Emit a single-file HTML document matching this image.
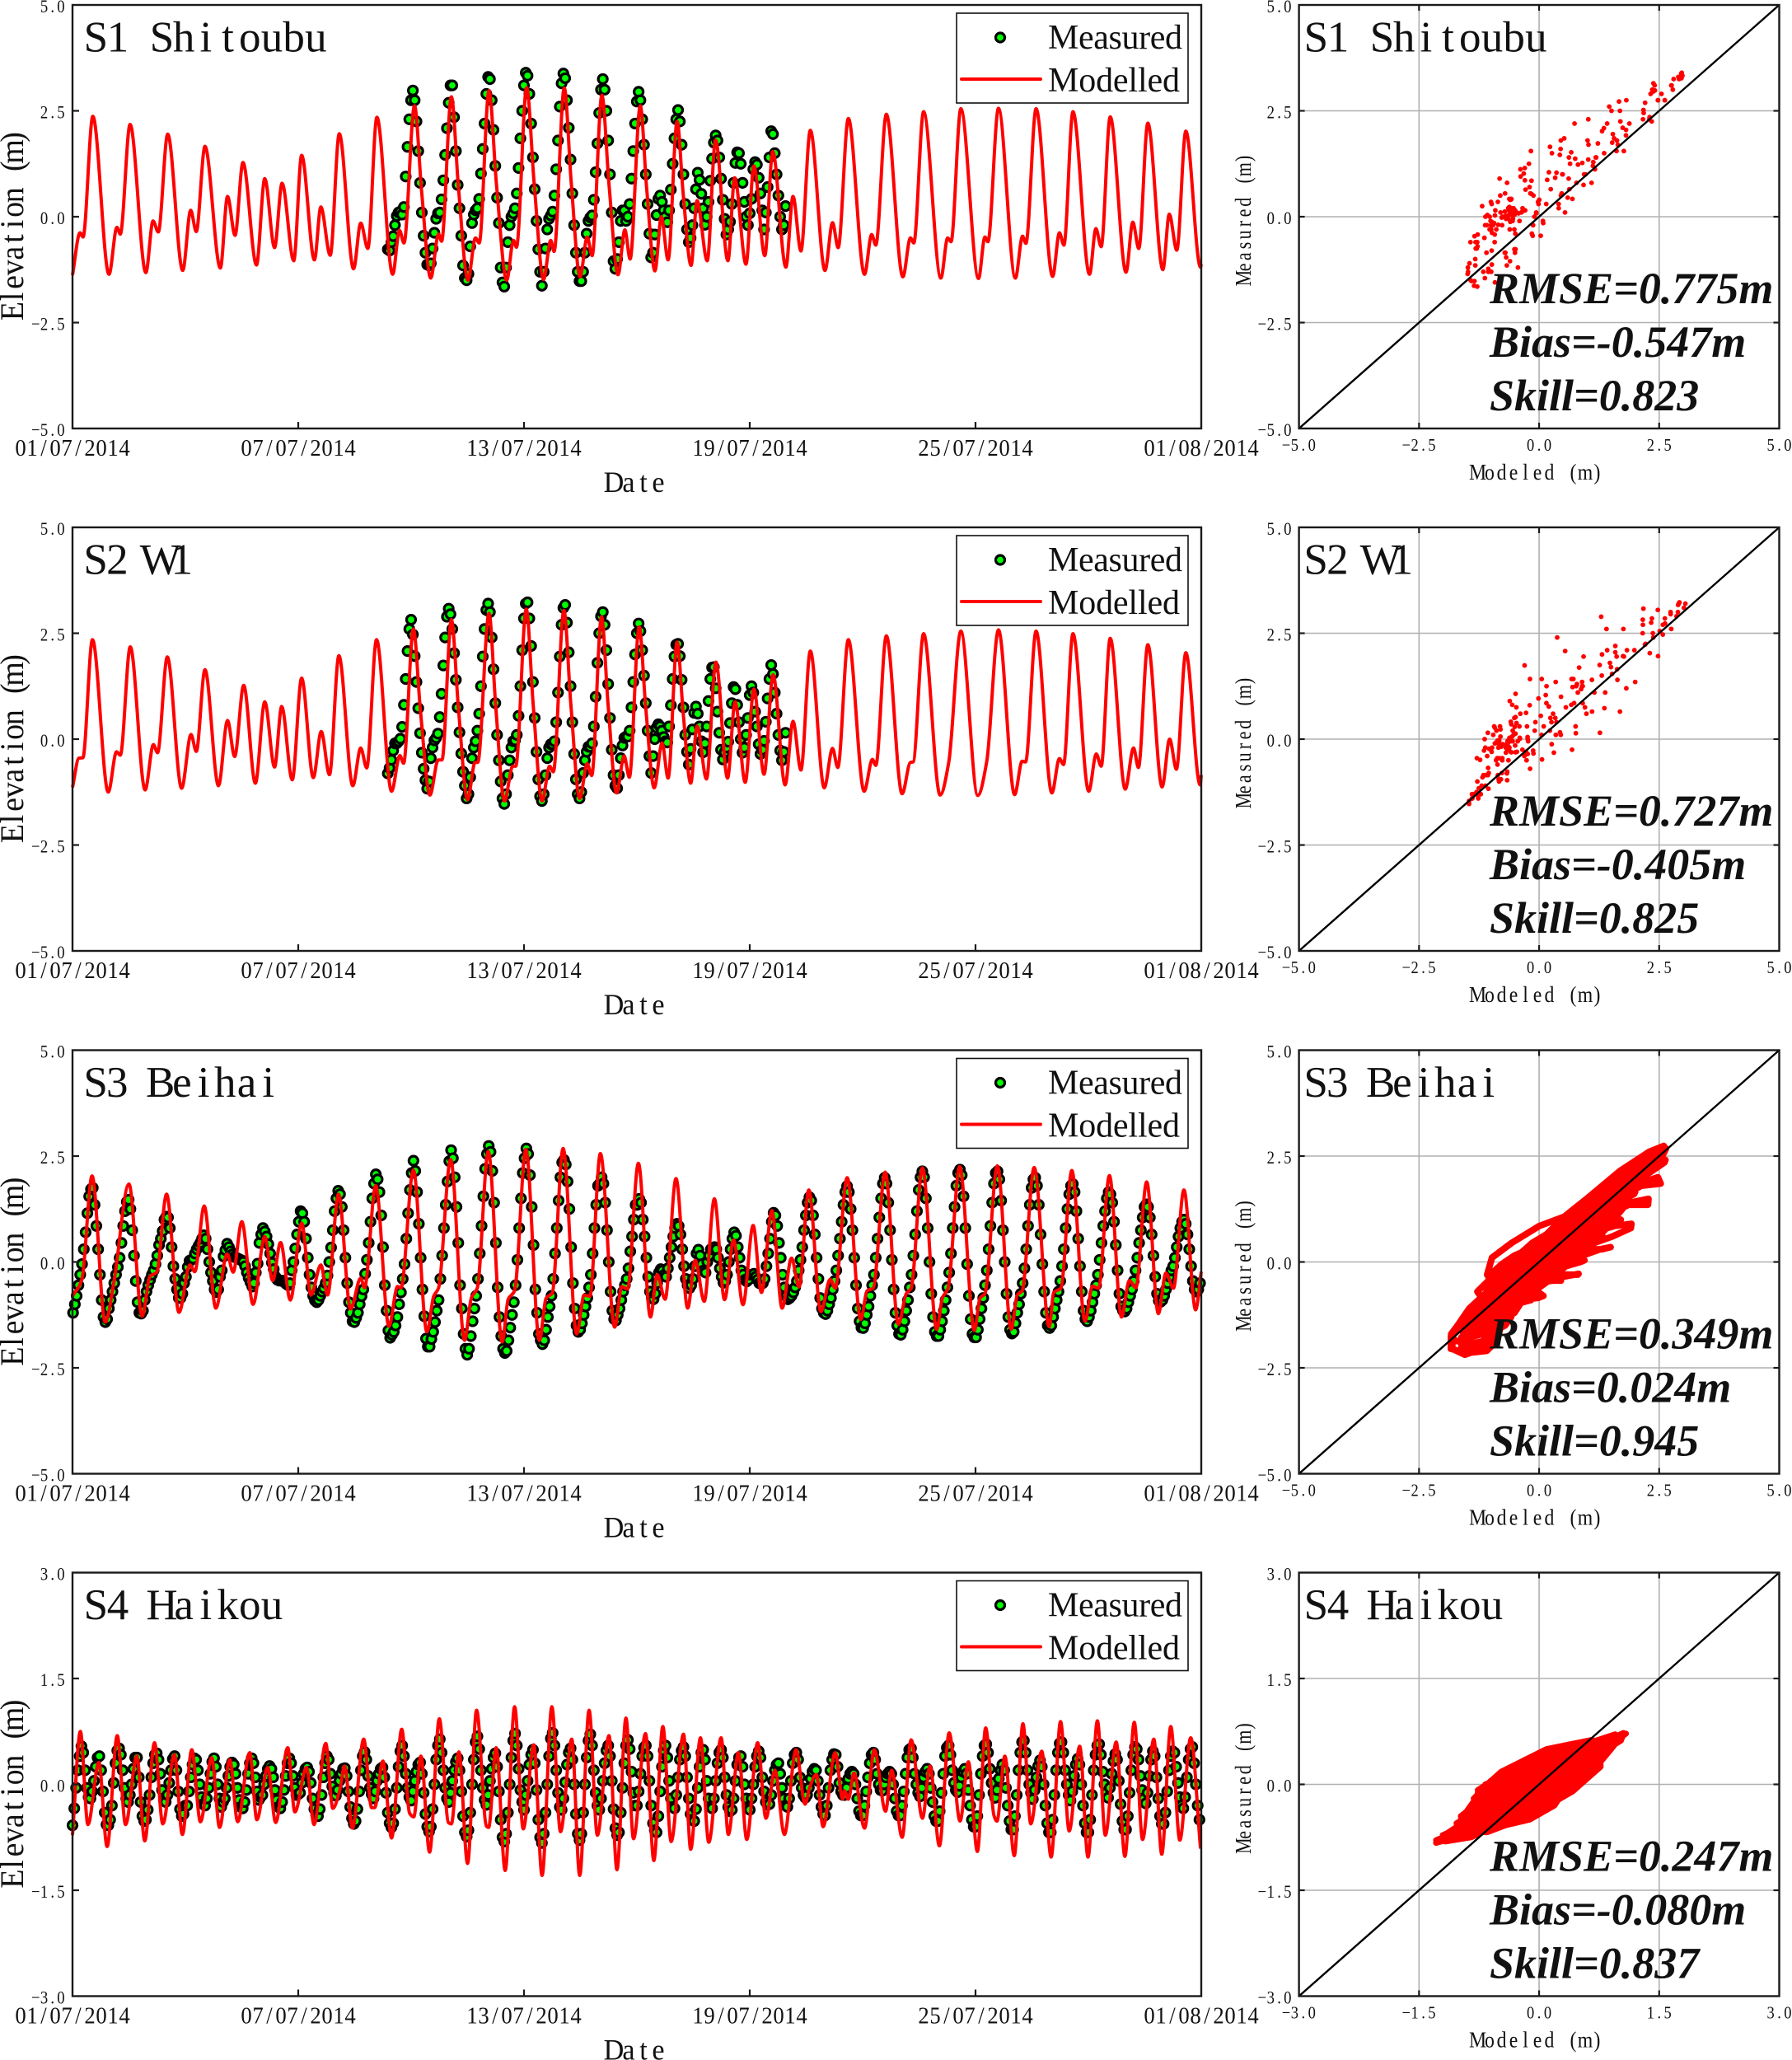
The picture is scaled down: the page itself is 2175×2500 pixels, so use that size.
<!DOCTYPE html>
<html lang="en">
<head>
<meta charset="utf-8">
<title>Tidal elevation validation S1-S4</title>
<style>
html,body{margin:0;padding:0;background:#fff;}
svg{display:block;}
text{font-family:"Liberation Serif","Noto Serif CJK SC",serif;fill:#111;}
</style>
</head>
<body>
<svg id="figure" xmlns="http://www.w3.org/2000/svg" width="2175" height="2500" viewBox="0 0 2175 2500"></svg>
<script>
// ---------- shared axis labels ----------
const dateTickDays = [0, 6, 12, 18, 24, 30];
const dateTickLabels = ["01/07/2014", "07/07/2014", "13/07/2014", "19/07/2014", "25/07/2014", "01/08/2014"];
const wideAxisTicks = [5, 2.5, 0, -2.5, -5];
const wideAxisLabels = ["5.0", "2.5", "0.0", "\u22122.5", "\u22125.0"];
const narrowAxisTicks = [3, 1.5, 0, -1.5, -3];
const narrowAxisLabels = ["3.0", "1.5", "0.0", "\u22121.5", "\u22123.0"];
const samplesPerCycle = 21;

// ---------- S1 Shitoubu ----------
const s1Modelled = [[0,-1.38],[.2,-.38],[.28,-.48],[.54,2.37],[.97,-1.36],[1.18,-.25],[1.27,-.41],[1.53,2.18],[1.95,-1.32],[2.14,-.1],[2.28,-.36],[2.53,1.95],[2.93,-1.27],[3.14,.15],[3.29,-.35],[3.52,1.66],[3.93,-1.21],[4.12,.48],[4.32,-.44],[4.53,1.28],[4.89,-1.14],[5.11,.9],[5.37,-.73],[5.57,.79],[5.88,-1.04],[6.09,1.45],[6.43,-1.02],[6.6,.23],[6.85,-.91],[7.09,1.96],[7.47,-1.23],[7.66,-.15],[7.85,-.75],[8.09,2.35],[8.51,-1.36],[8.69,-.32],[8.81,-.62],[9.09,2.62],[9.28,.585],[9.52,-1.45],[9.73,-.41],[9.81,-.58],[10.07,2.83],[10.26,.665],[10.51,-1.5],[10.71,-.5],[10.81,-.62],[11.07,2.98],[11.27,.74],[11.54,-1.5],[11.72,-.56],[11.8,-.72],[12.07,3.05],[12.27,.785],[12.52,-1.48],[12.71,-.56],[12.8,-.82],[13.07,3.04],[13.255,.81],[13.49,-1.42],[13.68,-.48],[13.81,-.92],[14.07,2.87],[14.26,.75],[14.5,-1.37],[14.68,-.31],[14.82,-1],[15.09,2.62],[15.26,.67],[15.48,-1.28],[15.65,0],[15.83,-1.02],[16.07,2.25],[16.23,.55],[16.44,-1.15],[16.6,.38],[16.87,-1.04],[17.09,1.81],[17.42,-1.04],[17.6,.92],[17.9,-1.12],[18.11,1.2],[18.4,-.92],[18.61,1.54],[18.96,-1.19],[19.15,.48],[19.36,-.81],[19.61,2.04],[20,-1.27],[20.2,-.14],[20.35,-.73],[20.62,2.32],[21.05,-1.36],[21.24,-.42],[21.35,-.67],[21.63,2.42],[22.07,-1.42],[22.27,-.5],[22.36,-.62],[22.62,2.48],[23.08,-1.45],[23.26,-.5],[23.35,-.59],[23.61,2.55],[24.08,-1.46],[24.25,-.48],[24.33,-.59],[24.61,2.56],[25.06,-1.45],[25.25,-.46],[25.34,-.63],[25.61,2.55],[26.05,-1.41],[26.23,-.38],[26.35,-.67],[26.59,2.48],[27.03,-1.36],[27.2,-.28],[27.34,-.71],[27.58,2.36],[28,-1.31],[28.18,-.13],[28.34,-.75],[28.58,2.21],[28.98,-1.25],[29.15,.06],[29.35,-.79],[29.59,2.02],[29.98,-1.19],[30,-1.12]];
const s1MeasuredStart = 8.38;
const s1Measured = [
[-.77,-.8,-.6,-.46,-.2,.02,.1,.12,.05,.23,.95,1.65,2.3,2.75,2.98,2.75,2.25,1.55,.8,.1,-.45],
[-.85,-1.13,-1.15,-1.1,-.75,-.38,-.05,.08,.1,.41,.86,1.46,2.09,2.69,3.1,3.1,2.35,1.55,.75,.2,-.45],
[-1.15,-1.45,-1.5,-1.35,-.7,-.15,.05,.15,.2,.42,1.02,1.6,2.2,2.9,3.3,3.25,2.75,2.05,1.2,.45,-.15],
[-1.2,-1.55,-1.65,-1.2,-.6,-.2,0,.08,.2,.55,1.15,1.85,2.5,3.1,3.4,3.33,2.9,2.2,1.4,.65,-.1],
[-.77,-1.3,-1.63,-1.3,-.75,-.3,-.05,.03,.12,.5,1.12,1.8,2.6,3.15,3.38,3.27,2.75,2.1,1.35,.55,-.2],
[-.85,-1.3,-1.52,-1.52,-1.3,-.85,-.4,-.1,-.02,.03,.4,1.05,1.73,2.45,3,3.25,3,2.5,1.8,1,.1],
[-1.05,-1.23,-1,-.6,-.1,.15,.15,-.1,0,.3,.9,1.55,2.2,2.72,2.95,2.75,2.3,1.7,1,.3,-.4],
[-.96,-.85,-.42,.04,.42,.5,.35,.15,0,-.13,.15,.64,1.25,1.85,2.3,2.52,2.25,1.7,1,.3,-.3],
[-.6,-.5,-.2,.2,.65,1.04,.87,.54,.2,-.19,0,.35,.85,1.37,1.75,1.92,1.8,1.4,.9,.4,-.05],
[-.42,-.3,-.12,.3,.8,1.27,1.52,1.5,1.25,.8,.35,0,-.2,.08,.42,1.12,1.29,1.23,.92,.55,.15],
[-.3,.1,.7,1.4,2.02,1.95,1.5,1,.5,0,-.3,-.2,.25]
];

// ---------- S2 W1 ----------
const s2Modelled = [[0,-1.14],[.17,-.45],[.275,-.44],[.53,2.35],[.95,-1.25],[1.17,-.3],[1.27,-.38],[1.535,2.18],[1.93,-1.2],[2.15,-.13],[2.26,-.32],[2.52,1.94],[2.9,-1.16],[3.15,.11],[3.29,-.29],[3.52,1.64],[3.88,-1.1],[4.12,.44],[4.31,-.41],[4.55,1.27],[4.86,-1.04],[5.11,.88],[5.37,-.66],[5.56,.77],[5.84,-.96],[6.09,1.44],[6.4,-.91],[6.61,.18],[6.83,-.84],[7.08,1.97],[7.45,-1.1],[7.66,-.21],[7.82,-.68],[8.08,2.35],[8.48,-1.23],[8.7,-.39],[8.8,-.57],[9.06,2.6],[9.25,.64],[9.5,-1.32],[9.72,-.49],[9.82,-.49],[10.07,2.82],[10.26,.695],[10.5,-1.43],[10.7,-.55],[10.77,-.55],[11.07,2.97],[11.25,.755],[11.48,-1.46],[11.7,-.64],[11.78,-.64],[12.06,3.07],[12.245,.805],[12.48,-1.46],[12.68,-.64],[12.78,-.77],[13.06,3.04],[13.245,.82],[13.48,-1.4],[13.68,-.58],[13.8,-.86],[14.06,2.89],[14.235,.81],[14.46,-1.27],[14.66,-.4],[14.8,-.9],[15.06,2.65],[15.235,.75],[15.46,-1.15],[15.67,-.09],[15.83,-.92],[16.07,2.29],[16.23,.625],[16.43,-1.04],[16.6,.31],[16.85,-.94],[17.1,1.82],[17.41,-.92],[17.61,.88],[17.88,-1.02],[18.11,1.18],[18.38,-.83],[18.62,1.52],[18.94,-1.08],[19.15,.42],[19.36,-.73],[19.61,2.08],[19.98,-1.15],[20.2,-.22],[20.34,-.67],[20.62,2.35],[21.04,-1.23],[21.26,-.48],[21.35,-.62],[21.63,2.44],[22.05,-1.29],[22.27,-.55],[22.34,-.54],[22.62,2.49],[23.06,-1.32],[23.29,-.54],[23.61,2.55],[24.06,-1.33],[24.3,-.52],[24.61,2.58],[25.04,-1.31],[25.24,-.52],[25.33,-.54],[25.61,2.55],[26.03,-1.27],[26.23,-.46],[26.34,-.6],[26.59,2.49],[27.01,-1.23],[27.21,-.35],[27.34,-.64],[27.58,2.38],[27.98,-1.18],[28.2,-.21],[28.33,-.67],[28.58,2.23],[28.96,-1.13],[29.16,0],[29.34,-.71],[29.59,2.04],[29.97,-1.08],[30,-.85]];
const s2MeasuredStart = 8.38;
const s2Measured = [
[-.81,-.68,-.49,-.27,-.1,-.1,-.05,.01,.29,.81,1.42,2.08,2.6,2.82,2.47,1.96,1.35,.73,.14,-.32,-.7],
[-.97,-1.17,-1,-.45,-.2,-.03,.03,.13,.52,1.07,1.74,2.4,2.89,3.08,2.95,2.6,2.03,1.4,.75,.16,-.34],
[-.77,-1.1,-1.4,-1.3,-.9,-.45,-.2,-.05,.2,.6,1.25,1.95,2.6,3.05,3.2,3,2.4,1.65,.85,.1,-.5],
[-1,-1.4,-1.53,-1.3,-.85,-.5,-.2,-.05,-.03,.1,.55,1.25,2.1,2.85,3.2,3.23,2.85,2.2,1.35,.5,-.3],
[-.95,-1.35,-1.46,-1.3,-.85,-.45,-.2,-.12,-.12,-.05,.4,1.1,1.95,2.7,3.1,3.17,2.75,2.05,1.25,.4,-.35],
[-.95,-1.3,-1.4,-1.25,-.8,-.5,-.3,-.18,-.18,-.1,.3,1,1.8,2.5,2.9,3,2.7,2.1,1.3,.5,-.25],
[-.85,-1.1,-1.16,-.85,-.45,-.15,.03,.06,.06,.2,.75,1.35,2,2.5,2.73,2.55,2.1,1.5,.85,.2,-.4],
[-.8,-.4,0,.27,.35,.3,.2,.05,-.05,-.08,.3,.8,1.42,1.95,2.23,2.25,1.96,1.4,.75,.1,-.3],
[-.6,-.23,.23,.62,.77,.6,.3,-.05,-.31,-.1,.3,.9,1.42,1.69,1.7,1.2,.65,.15,-.25,-.48,-.31],
[-.2,-.06,.38,.85,1.23,1.18,.81,.4,0,-.32,-.2,.1,.5,1.04,1.25,1.1,.65,.3,-.12,-.35,-.25],
[-.04,.41,.96,1.42,1.75,1.54,1.1,.6,.1,-.27,-.5,-.3,.15]
];

// ---------- S3 Beihai ----------
const s3Modelled = [[0,-.81],[.25,-.41],[.52,2.03],[.87,-1.42],[1.1,-.48],[1.5,1.84],[1.85,-1.28],[2.06,-.34],[2.24,-.24],[2.5,1.6],[2.83,-1.19],[3.12,-.07],[3.25,-.23],[3.5,1.32],[3.81,-1.09],[4.11,.19],[4.27,-.24],[4.5,.95],[4.8,-1],[5.11,.6],[5.32,-.44],[5.53,.46],[5.79,-.9],[6.09,.92],[6.34,-.78],[6.6,-.07],[6.78,-.78],[7.07,1.6],[7.39,-1.11],[7.66,-.38],[7.76,-.61],[8.06,1.8],[8.41,-1.52],[8.64,-.58],[8.73,-.61],[9.06,2.17],[9.42,-1.65],[9.6,-.81],[9.73,-.61],[10.05,2.42],[10.42,-1.85],[10.6,-.85],[10.76,-.61],[11.05,2.61],[11.42,-1.89],[11.58,-.88],[11.75,-.68],[12.05,2.66],[12.41,-1.85],[12.59,-.85],[12.75,-.74],[13.04,2.68],[13.4,-1.7],[13.6,-.78],[13.75,-.81],[14.03,2.56],[14.41,-1.54],[14.6,-.58],[14.75,-.64],[15.04,2.33],[15.36,-1.3],[15.54,-.3],[15.75,-.88],[16.04,1.97],[16.35,-1.09],[16.55,.04],[16.79,-.93],[17.06,1.49],[17.33,-.89],[17.57,.52],[17.82,-1.01],[18.09,.86],[18.31,-.72],[18.59,1.21],[18.86,-1.09],[19.11,.09],[19.31,-.59],[19.57,1.7],[19.89,-1.17],[20.14,-.41],[20.27,-.62],[20.59,1.99],[20.95,-1.36],[21.12,-.68],[21.28,-.62],[21.6,2.12],[21.95,-1.47],[22.16,-.75],[22.29,-.62],[22.59,2.22],[22.97,-1.59],[23.12,-.85],[23.27,-.62],[23.58,2.25],[23.97,-1.62],[24.12,-.85],[24.25,-.75],[24.58,2.27],[24.95,-1.59],[25.11,-.78],[25.24,-.68],[25.56,2.23],[25.96,-1.53],[26.08,-.72],[26.27,-.62],[26.56,2.16],[26.91,-1.4],[27.11,-.57],[27.27,-.62],[27.56,2.04],[27.88,-1.3],[28.09,-.44],[28.26,-.61],[28.55,1.89],[28.86,-1.22],[29.06,-.26],[29.26,-.62],[29.54,1.7],[29.85,-1.13],[30,-.23]];
const s3MeasuredStart = .015;
const s3Measured = [
[-1.2,-1,-.8,-.55,-.3,-.05,.3,.7,1.15,1.55,1.72,1.75,1.35,.85,.3,-.3,-.9,-1.3,-1.42,-1.35,-1.1],
[-.9,-.7,-.5,-.3,-.12,.1,.45,.85,1.2,1.42,1.47,1.25,.75,.15,-.45,-.95,-1.2,-1.22,-1.15,-.9,-.7],
[-.55,-.42,-.3,-.2,-.05,.15,.4,.55,.73,1,1.07,1.05,.8,.35,-.1,-.4,-.65,-.85,-.85,-.75,-.5],
[-.35,-.12,.03,.05,.08,.2,.3,.38,.45,.55,.63,.55,.3,0,-.25,-.45,-.65,-.71,-.65,-.35,-.2],
[.13,.28,.43,.35,.25,.18,.12,.1,.08,.06,.04,0,-.1,-.25,-.38,-.48,-.58,-.5,-.25,-.04,.45],
[.65,.8,.72,.6,.42,.2,-.02,-.17,-.35,-.42,-.44,-.44,-.44,-.48,-.52,-.55,-.5,-.2,0,.32,.65],
[.95,1.2,1.15,.95,.55,.1,-.3,-.6,-.8,-.91,-.95,-.9,-.8,-.7,-.62,-.5,-.32,0,.34,.75,1.2],
[1.5,1.68,1.6,1.3,.75,.1,-.5,-.95,-1.2,-1.4,-1.42,-1.32,-1.2,-1,-.81,-.65,-.28,.05,.45,.95,1.5],
[1.85,2.07,1.95,1.65,1.1,.35,-.55,-1.15,-1.62,-1.79,-1.72,-1.65,-1.5,-1.3,-1,-.72,-.4,-.05,.55,1.15,1.7],
[2.1,2.39,2.15,1.65,.9,.1,-.65,-1.28,-1.81,-2,-2,-1.82,-1.65,-1.42,-1.15,-.9,-.4,.15,.8,1.35,1.9],
[2.38,2.64,2.45,2,1.3,.45,-.55,-1.1,-1.7,-2.05,-2.19,-2.05,-1.75,-1.4,-1.1,-.8,-.4,.2,.85,1.55,2.2],
[2.55,2.74,2.6,2.15,1.4,.45,-.6,-1.3,-1.75,-2.05,-2.15,-2.1,-1.85,-1.55,-1.25,-.95,-.55,.05,.8,1.5,2.1],
[2.45,2.68,2.55,2.05,1.3,.4,-.65,-1.2,-1.7,-1.85,-1.94,-1.85,-1.6,-1.3,-1.05,-.8,-.4,.2,.8,1.45,2],
[2.35,2.41,2.3,1.9,1.25,.35,-.5,-1.1,-1.5,-1.65,-1.6,-1.45,-1.25,-1.05,-.85,-.6,-.3,.2,.8,1.35,1.8],
[1.85,2,1.85,1.4,.75,0,-.7,-1.15,-1.35,-1.38,-1.25,-1.1,-.9,-.7,-.55,-.4,-.15,.25,.6,1,1.35],
[1.35,1.49,1.4,1,.6,.1,-.35,-.7,-.85,-.88,-.75,-.5,-.25,-.17,-.2,-.3,-.35,-.15,.1,.35,.6],
[.8,.9,.85,.65,.3,-.1,-.4,-.55,-.62,-.55,-.4,-.1,.2,.29,.15,-.05,-.2,-.25,0,.15,.3],
[.3,.35,.3,.1,-.15,-.35,-.49,-.45,-.3,0,.3,.55,.7,.62,.35,.1,-.2,-.3,-.42,-.46,-.42],
[-.3,-.3,-.28,-.35,-.42,-.5,-.52,-.5,-.4,-.1,.2,.55,.95,1.16,1.1,.85,.45,.1,-.3,-.6,-.8],
[-.88,-.85,-.8,-.72,-.6,-.45,-.2,.05,.35,.75,1.1,1.4,1.53,1.45,1.1,.65,.1,-.4,-.85,-1.1,-1.2],
[-1.23,-1.15,-1,-.85,-.65,-.45,-.2,.15,.55,.95,1.35,1.65,1.79,1.65,1.25,.75,.1,-.55,-1.1,-1.4,-1.55],
[-1.56,-1.45,-1.25,-1.05,-.8,-.55,-.3,.1,.55,1.05,1.5,1.85,1.99,1.85,1.4,.75,.05,-.65,-1.2,-1.5,-1.7],
[-1.72,-1.6,-1.4,-1.15,-.9,-.6,-.3,.15,.65,1.2,1.7,2,2.14,2,1.5,.8,0,-.75,-1.3,-1.65,-1.75],
[-1.75,-1.6,-1.4,-1.15,-.9,-.6,-.25,.2,.8,1.3,1.8,2.1,2.18,2.05,1.55,.8,-.05,-.8,-1.35,-1.7,-1.78],
[-1.78,-1.6,-1.35,-1.1,-.85,-.55,-.2,.3,.85,1.4,1.85,2.1,2.14,1.95,1.45,.75,0,-.75,-1.3,-1.6,-1.69],
[-1.65,-1.45,-1.2,-1,-.75,-.5,-.15,.3,.85,1.35,1.75,1.95,1.99,1.8,1.35,.65,-.05,-.7,-1.2,-1.5,-1.56],
[-1.5,-1.3,-1.1,-.9,-.7,-.45,-.1,.3,.8,1.25,1.6,1.8,1.84,1.65,1.2,.55,-.1,-.7,-1.15,-1.35,-1.4],
[-1.3,-1.15,-.95,-.75,-.55,-.3,.05,.45,.85,1.2,1.5,1.65,1.6,1.4,.95,.4,-.2,-.75,-1.05,-1.15,-1.17],
[-1.1,-.95,-.8,-.65,-.45,-.2,.1,.45,.75,1.05,1.3,1.36,1.3,1.05,.65,.15,-.35,-.75,-.92,-.94,-.9],
[-.8,-.65,-.5,-.35,-.2,-.1,.1,.35,.6,.8,.95,1,.9,.65,.3,-.1,-.45,-.65,-.7,-.65,-.5]
];

// ---------- S4 Haikou ----------
const s4Modelled = [[0,-.72],[.21,.75],[.41,-.57],[.7,.31],[.92,-.88],[1.19,.69],[1.41,-.57],[1.71,.4],[1.92,-.8],[2.18,.59],[2.4,-.56],[2.71,.42],[2.92,-.71],[3.17,.49],[3.4,-.53],[3.7,.38],[3.91,-.61],[4.18,.35],[4.39,-.53],[4.71,.45],[4.9,-.5],[5.19,.24],[5.4,-.54],[5.72,.52],[5.91,-.39],[6.22,.24],[6.42,-.57],[6.73,.58],[6.92,-.34],[7.1,-.09],[7.23,.26],[7.44,-.62],[7.74,.64],[7.95,-.33],[8.03,-.33],[8.25,.33],[8.48,-.76],[8.75,.78],[8.96,-.41],[9.07,-.46],[9.26,.4],[9.49,-.96],[9.75,.93],[9.99,-.54],[10.07,-.56],[10.27,.46],[10.5,-1.12],[10.74,1.05],[11,-.59],[11.06,-.61],[11.26,.52],[11.5,-1.22],[11.75,1.1],[11.98,-.63],[12.26,.56],[12.48,-1.29],[12.74,1.1],[12.97,-.67],[13.27,.64],[13.48,-1.29],[13.73,1.05],[13.95,-.72],[14.26,.69],[14.47,-1.21],[14.71,.94],[14.91,-.77],[15.23,.72],[15.45,-1.08],[15.69,.82],[15.91,-.81],[16.24,.71],[16.43,-.92],[16.69,.66],[16.91,-.82],[17.24,.66],[17.43,-.71],[17.7,.45],[17.92,-.78],[18.21,.59],[18.43,-.48],[18.67,.2],[18.92,-.71],[19.23,.49],[19.47,-.28],[19.6,-.03],[19.77,.14],[19.95,-.6],[20.27,.45],[20.47,-.21],[20.52,-.09],[20.62,-.21],[20.77,.16],[21.05,-.62],[21.31,.49],[21.61,-.38],[21.77,.2],[22.05,-.75],[22.29,.63],[22.59,-.48],[22.79,.26],[23.04,-.87],[23.3,.73],[23.59,-.52],[23.81,.32],[24.05,-.95],[24.27,.8],[24.49,-.44],[24.57,-.52],[24.78,.4],[25.03,-1.01],[25.26,.86],[25.47,-.56],[25.76,.47],[26.01,-1.03],[26.26,.89],[26.49,-.66],[26.77,.54],[26.99,-1.03],[27.24,.9],[27.45,-.72],[27.74,.6],[27.97,-1.02],[28.22,.88],[28.44,-.78],[28.74,.64],[28.95,-.99],[29.19,.82],[29.43,-.79],[29.72,.66],[29.98,-.91]];
const s4MeasuredStart = 0;
const s4Measured = [
[-.58,-.34,-.05,.2,.4,.54,.45,.2,-.05,-.18,-.2,-.1,.05,.25,.38,.4,.2,-.1,-.4,-.57,-.58],
[-.5,-.3,.02,.3,.48,.51,.42,.2,-.05,-.2,-.25,-.15,0,.22,.38,.38,.1,-.25,-.45,-.52,-.5],
[-.36,-.15,.1,.3,.42,.44,.35,.15,-.08,-.22,-.25,-.15,.02,.2,.36,.4,.2,-.1,-.35,-.45,-.42],
[-.3,-.3,-.1,.1,.28,.37,.35,.2,0,-.18,-.28,-.3,-.2,-.05,.15,.32,.37,.25,0,-.2,-.32],
[-.25,-.2,-.05,.12,.25,.31,.28,.15,-.05,-.22,-.32,-.34,-.25,-.08,.15,.3,.37,.3,.1,-.1,-.22],
[-.18,-.15,0,.12,.22,.26,.22,.1,-.08,-.22,-.32,-.34,-.25,-.08,.12,.3,.37,.3,.12,-.05,-.15],
[-.14,-.12,.02,.15,.22,.24,.18,.02,-.2,-.35,-.43,-.45,-.35,-.15,.1,.3,.4,.35,.15,-.03,-.12],
[-.16,-.08,.05,.15,.22,.23,.12,-.1,-.32,-.48,-.56,-.52,-.35,-.1,.2,.4,.46,.35,.12,-.05,-.14],
[-.2,-.1,.05,.15,.22,.24,.1,-.12,-.4,-.55,-.61,-.55,-.35,-.05,.25,.47,.55,.4,.15,-.05,-.18],
[-.23,-.1,.05,.18,.28,.31,.15,-.12,-.42,-.6,-.67,-.6,-.35,0,.35,.55,.64,.45,.2,-.05,-.2],
[-.25,-.12,.05,.2,.32,.37,.2,-.1,-.45,-.68,-.74,-.65,-.4,0,.35,.6,.68,.5,.2,-.05,-.22],
[-.29,-.15,.05,.22,.38,.44,.25,-.1,-.5,-.75,-.81,-.7,-.4,0,.38,.62,.72,.55,.22,-.08,-.25],
[-.36,-.15,.05,.28,.42,.49,.3,-.08,-.5,-.75,-.83,-.7,-.4,0,.4,.65,.73,.55,.2,-.12,-.32],
[-.36,-.2,.03,.28,.45,.51,.35,0,-.42,-.7,-.79,-.7,-.4,0,.38,.62,.71,.55,.2,-.12,-.3],
[-.36,-.2,.05,.3,.48,.55,.4,.05,-.35,-.62,-.72,-.68,-.4,-.05,.3,.55,.63,.5,.18,-.12,-.3],
[-.3,-.1,.15,.4,.52,.55,.4,.05,-.3,-.55,-.65,-.68,-.45,-.1,.25,.48,.55,.38,.05,-.2,-.32],
[-.34,-.15,.1,.35,.48,.53,.4,.1,-.2,-.42,-.5,-.52,-.35,-.05,.25,.45,.49,.35,.05,-.2,-.32],
[-.34,-.2,.05,.3,.45,.49,.38,.1,-.15,-.32,-.38,-.36,-.2,.05,.28,.38,.4,.25,0,-.2,-.33],
[-.36,-.2,0,.25,.4,.47,.38,.1,-.1,-.25,-.29,-.28,-.15,.05,.2,.28,.3,.15,-.05,-.2,-.3],
[-.32,-.2,.05,.3,.42,.45,.35,.1,-.05,-.15,-.19,-.15,-.05,.08,.18,.22,.2,.05,-.15,-.32,-.42],
[-.44,-.3,-.05,.2,.35,.43,.42,.25,.02,-.1,-.15,-.15,-.05,.08,.15,.18,.15,0,-.2,-.38,-.44],
[-.44,-.3,-.1,.1,.3,.42,.45,.35,.15,0,-.08,-.09,0,.1,.15,.18,.15,0,-.2,-.38,-.44],
[-.44,-.3,-.1,.15,.38,.49,.51,.38,.15,0,-.12,-.17,-.05,.1,.18,.22,.15,-.05,-.25,-.45,-.52],
[-.52,-.38,-.12,.15,.4,.52,.55,.42,.2,.02,-.08,-.11,-.02,.1,.18,.22,.15,-.08,-.3,-.5,-.6],
[-.6,-.45,-.15,.15,.4,.55,.57,.45,.22,.02,-.12,-.19,-.08,.08,.2,.28,.2,-.05,-.3,-.52,-.64],
[-.64,-.45,-.15,.2,.45,.6,.62,.45,.2,0,-.12,-.21,-.08,.1,.26,.34,.25,0,-.3,-.55,-.68],
[-.68,-.5,-.15,.2,.45,.58,.6,.45,.2,0,-.15,-.23,-.1,.12,.28,.36,.28,0,-.3,-.55,-.68],
[-.68,-.5,-.15,.2,.42,.55,.57,.42,.18,0,-.12,-.19,-.05,.15,.33,.43,.35,.05,-.28,-.52,-.64],
[-.64,-.45,-.12,.2,.42,.53,.5,.35,.12,-.08,-.2,-.27,-.12,.12,.35,.47,.4,.1,-.2,-.45,-.56],
[-.56,-.4,-.1,.2,.4,.47,.45,.25,.02,-.18,-.3,-.34,-.18,.1,.35,.5,.53,.3,0,-.3,-.5]
];

// ---------- station text ----------
const stationTitles = ["S1 Shitoubu", "S2 W1", "S3 Beihai", "S4 Haikou"];
const s1Stats = ["RMSE=0.775m", "Bias=-0.547m", "Skill=0.823"];
const s2Stats = ["RMSE=0.727m", "Bias=-0.405m", "Skill=0.825"];
const s3Stats = ["RMSE=0.349m", "Bias=0.024m", "Skill=0.945"];
const s4Stats = ["RMSE=0.247m", "Bias=-0.080m", "Skill=0.837"];

const stations = [
  {title: stationTitles[0], model: s1Modelled, start: s1MeasuredStart, measured: s1Measured, stats: s1Stats, ticks: wideAxisTicks, labels: wideAxisLabels, scatter: "dots", fillLoop: false},
  {title: stationTitles[1], model: s2Modelled, start: s2MeasuredStart, measured: s2Measured, stats: s2Stats, ticks: wideAxisTicks, labels: wideAxisLabels, scatter: "dots", fillLoop: false},
  {title: stationTitles[2], model: s3Modelled, start: s3MeasuredStart, measured: s3Measured, stats: s3Stats, ticks: wideAxisTicks, labels: wideAxisLabels, scatter: "loop", fillLoop: false},
  {title: stationTitles[3], model: s4Modelled, start: s4MeasuredStart, measured: s4Measured, stats: s4Stats, ticks: narrowAxisTicks, labels: narrowAxisLabels, scatter: "loop", fillLoop: true}
];

// ---------- layout (pixels) ----------
const panelTops = [6, 640, 1274.5, 1908.5];
const panelH = 514;
const seriesBox = {left: 88, right: 1458};
const scatterBox = {left: 1576.6, right: 2159.5};
const titlePitches = [26.7, 26.2, 26.2, 26.7];
const NS = "http://www.w3.org/2000/svg";
const root = document.getElementById("figure");

function mk(parent, tag, attrs) {
  const el = document.createElementNS(NS, tag);
  for (const k in attrs) el.setAttribute(k, attrs[k]);
  parent.appendChild(el);
  return el;
}
function label(parent, str, attrs) {
  const el = mk(parent, "text", attrs);
  el.textContent = str;
  return el;
}
// fixed-pitch label: every character sits in its own equal-width cell, centred on (cx, y)
function mono(parent, str, cx, y, size, pitch, squeeze, rotate) {
  const n = str.length, xs = [];
  for (let i = 0; i < n; i++) xs.push(((i - (n - 1) / 2) * pitch / squeeze).toFixed(2));
  const tf = "translate(" + cx + " " + y + ")" + (rotate ? " rotate(-90)" : "") + " scale(" + squeeze + " 1)";
  return label(parent, str, {x: xs.join(" "), y: 0, "font-size": size, "text-anchor": "middle", transform: tf});
}

// monotone cubic through the knots
function tangents(knots) {
  const n = knots.length, s = [], m = new Array(n).fill(0);
  for (let i = 0; i < n - 1; i++) s[i] = (knots[i + 1][1] - knots[i][1]) / (knots[i + 1][0] - knots[i][0]);
  m[0] = s[0]; m[n - 1] = s[n - 2];
  for (let i = 1; i < n - 1; i++) m[i] = s[i - 1] * s[i] <= 0 ? 0 : 2 * s[i - 1] * s[i] / (s[i - 1] + s[i]);
  return m;
}
function modelValue(knots, m, t) {
  if (t <= knots[0][0]) return knots[0][1];
  for (let i = 0; i < knots.length - 1; i++) {
    const a = knots[i], b = knots[i + 1];
    if (t <= b[0]) {
      const h = b[0] - a[0], u = (t - a[0]) / h, u2 = u * u, u3 = u2 * u;
      return (2 * u3 - 3 * u2 + 1) * a[1] + (u3 - 2 * u2 + u) * h * m[i] + (-2 * u3 + 3 * u2) * b[1] + (u3 - u2) * h * m[i + 1];
    }
  }
  return knots[knots.length - 1][1];
}

stations.forEach(function (st, row) {
  const top = panelTops[row], bottom = top + panelH;
  const range = st.ticks[0];
  const yScale = v => top + (range - v) / (2 * range) * panelH;
  const xTime = d => seriesBox.left + d / 30 * (seriesBox.right - seriesBox.left);
  const xModel = v => scatterBox.left + (v + range) / (2 * range) * (scatterBox.right - scatterBox.left);
  const slopes = tangents(st.model);

  const samples = [];
  st.measured.forEach(function (cycle, c) {
    cycle.forEach(function (v, i) {
      samples.push({t: st.start + c + i / samplesPerCycle, v: v});
    });
  });

  // ---------- time series panel ----------
  const g = mk(root, "g", {});
  
  

  samples.forEach(function (p) {
    const dot = mk(g, "circle", {cx: xTime(p.t), cy: yScale(p.v), r: 5.5, fill: "#00ff00", stroke: "#000", "stroke-width": 3.2});
    
    
  });

  let d = "M" + xTime(st.model[0][0]) + " " + yScale(st.model[0][1]);
  for (let i = 0; i < st.model.length - 1; i++) {
    const a = st.model[i], b = st.model[i + 1], h = b[0] - a[0];
    d += "C" + xTime(a[0] + h / 3).toFixed(2) + " " + yScale(a[1] + slopes[i] * h / 3).toFixed(2) + " " +
      xTime(b[0] - h / 3).toFixed(2) + " " + yScale(b[1] - slopes[i + 1] * h / 3).toFixed(2) + " " +
      xTime(b[0]).toFixed(2) + " " + yScale(b[1]).toFixed(2);
  }
  const line = mk(g, "path", {d: d, fill: "none", stroke: "#ff0000", "stroke-width": 4, "stroke-linejoin": "round"});
  
  

  const frame = mk(g, "rect", {x: seriesBox.left, y: top, width: seriesBox.right - seriesBox.left, height: panelH, fill: "none", stroke: "#1a1a1a", "stroke-width": 2.4});
  
  

  st.ticks.forEach(function (v, i) {
    const y = yScale(v);
    if (i > 0 && i < st.ticks.length - 1) {
      const tick = mk(g, "line", {x1: seriesBox.left, x2: seriesBox.left + 8, y1: y, y2: y, stroke: "#1a1a1a", "stroke-width": 2.2});
      
      
    }
    const w = st.labels[i].length * 10.2;
    const txt = mono(g, st.labels[i], 79 - w / 2, y + 9, 22, 10.2, .85, false);
    
    
  });

  dateTickDays.forEach(function (day, i) {
    const x = xTime(day);
    if (i > 0 && i < dateTickDays.length - 1) {
      const tick = mk(g, "line", {x1: x, x2: x, y1: bottom, y2: bottom - 8, stroke: "#1a1a1a", "stroke-width": 2.2});
      
      
    }
    const txt = mono(g, dateTickLabels[i], x, bottom + 33, 29, 14, .92, false);
    
    
  });

  const yTitle = mono(g, "Elevation (m)", 28, top + 266, 40, 17.6, .95, true);
  
  

  const xTitle = mono(g, "Date", 772, top + 591, 36, 18, .95, false);
  
  

  const titlePitch = titlePitches[row];
  const title = mono(g, st.title, 103 + st.title.length * titlePitch / 2, top + 56.5, 53, titlePitch, 1, false);
  
  

  // legend
  const legend = mk(g, "g", {});
  
  
  const box = mk(legend, "rect", {x: 1161, y: top + 10, width: 281, height: 109, fill: "#fff", stroke: "#111", "stroke-width": 1.6});
  
  
  const legDot = mk(legend, "circle", {cx: 1214, cy: top + 39.5, r: 5.5, fill: "#00ff00", stroke: "#000", "stroke-width": 3.2});
  
  
  const legLine = mk(legend, "line", {x1: 1167, x2: 1263, y1: top + 90, y2: top + 90, stroke: "#ff0000", "stroke-width": 4, "stroke-linecap": "round"});
  
  
  const legA = label(legend, "Measured", {x: 1272, y: top + 53, "font-size": 42, textLength: 163, lengthAdjust: "spacing"});
  
  
  const legB = label(legend, "Modelled", {x: 1272, y: top + 105, "font-size": 42, textLength: 160, lengthAdjust: "spacing"});
  
  

  // ---------- scatter panel ----------
  const s = mk(root, "g", {});
  
  

  st.ticks.forEach(function (v, i) {
    if (i === 0 || i === st.ticks.length - 1) return;
    const gh = mk(s, "line", {x1: scatterBox.left, x2: scatterBox.right, y1: yScale(v), y2: yScale(v), stroke: "#b0b0b0", "stroke-width": 1.6});
    
    
    const gv = mk(s, "line", {x1: xModel(v), x2: xModel(v), y1: top, y2: bottom, stroke: "#b0b0b0", "stroke-width": 1.6});
    
    
  });

  if (st.scatter === "dots") {
    samples.forEach(function (p) {
      const dot = mk(s, "circle", {cx: xModel(modelValue(st.model, slopes, p.t)), cy: yScale(p.v), r: 2.9, fill: "#ff0000"});
      
      
    });
  } else {
    let loop = "";
    samples.forEach(function (p, i) {
      loop += (i ? "L" : "M") + xModel(modelValue(st.model, slopes, p.t)).toFixed(2) + " " + yScale(p.v).toFixed(2);
    });
    const trace = mk(s, "path", {d: loop, fill: st.fillLoop ? "#ff0000" : "none", stroke: "#ff0000", "stroke-width": st.fillLoop ? 7 : 8, "stroke-linejoin": "round", "stroke-linecap": "round"});
    
    
  }

  const diag = mk(s, "line", {x1: xModel(-range), y1: yScale(-range), x2: xModel(range), y2: yScale(range), stroke: "#000", "stroke-width": 2.4});
  
  

  const sFrame = mk(s, "rect", {x: scatterBox.left, y: top, width: scatterBox.right - scatterBox.left, height: panelH, fill: "none", stroke: "#1a1a1a", "stroke-width": 2.4});
  
  

  st.ticks.forEach(function (v, i) {
    const y = yScale(v), x = xModel(v);
    if (i > 0 && i < st.ticks.length - 1) {
      [[scatterBox.left, y, scatterBox.left + 7, y], [scatterBox.right, y, scatterBox.right - 7, y], [x, top, x, top + 7], [x, bottom, x, bottom - 7]].forEach(function (c) {
        const tick = mk(s, "line", {x1: c[0], y1: c[1], x2: c[2], y2: c[3], stroke: "#1a1a1a", "stroke-width": 2.2});
        
        
      });
    }
    const w = st.labels[i].length * 10.3;
    const ly = mono(s, st.labels[i], 1568 - w / 2, y + 9, 22, 10.3, .85, false);
    
    
    const lx = mono(s, st.labels[i], x, bottom + 27, 21, 10.4, .88, false);
    
    
  });

  const sy = mono(s, "Measured (m)", 1518, top + 259, 27, 13.2, .82, true);
  
  

  const sx = mono(s, "Modeled (m)", 1866, top + 576, 27, 14.5, .88, false);
  
  

  const sTitle = mono(s, st.title, 1584 + st.title.length * titlePitch / 2, top + 56.5, 53, titlePitch, 1, false);
  
  

  [362, 427, 492].forEach(function (offset, i) {
    const stat = label(s, st.stats[i], {x: 1808, y: top + offset, "font-size": 54, "font-weight": "bold", "font-style": "italic", fill: "#000"});
    
    
  });
});
</script>
</body>
</html>
